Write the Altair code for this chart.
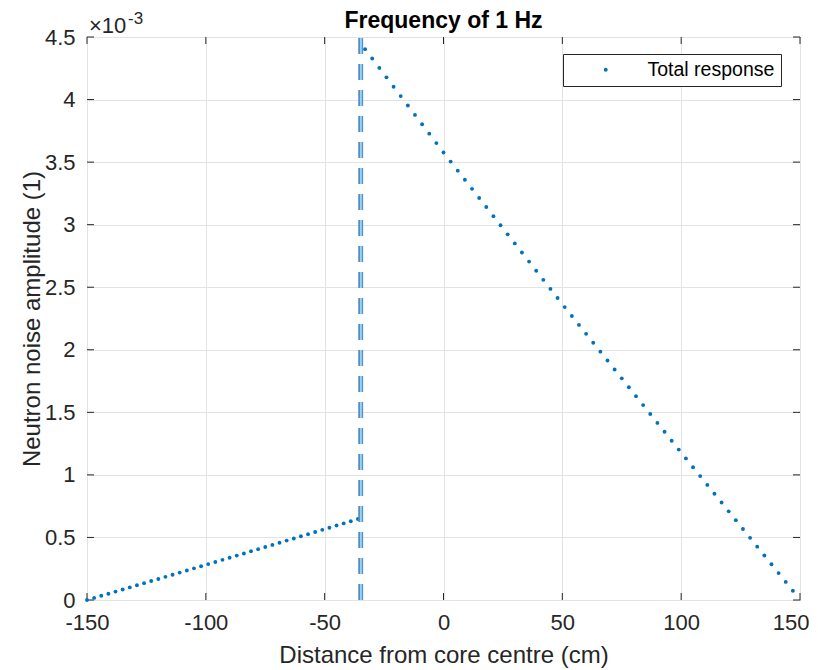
import altair as alt
import pandas as pd

# ---- data ----
x_left = [-150, -147, -144, -141, -138, -135, -132, -129, -126, -123, -120, -117, -114,
          -111, -108, -105, -102, -99, -96, -93, -90, -87, -84, -81, -78, -75, -72, -69,
          -66, -63, -60, -57, -54, -51, -48, -45, -42, -39, -36]
y_left = [0, 0.0168, 0.0336, 0.0503, 0.0672, 0.084, 0.1008, 0.1177, 0.1345, 0.1514,
          0.1683, 0.1852, 0.2021, 0.2191, 0.236, 0.253, 0.27, 0.2869, 0.304, 0.321,
          0.338, 0.3551, 0.3721, 0.3892, 0.4063, 0.4234, 0.4405, 0.4576, 0.4748, 0.4919,
          0.5091, 0.5263, 0.5435, 0.5607, 0.5779, 0.5952, 0.6124, 0.6297, 0.647]
x_right = [-33, -30, -27, -24, -21, -18, -15, -12, -9, -6, -3, 0, 3, 6, 9, 12, 15, 18, 21,
           24, 27, 30, 33, 36, 39, 42, 45, 48, 51, 54, 57, 60, 63, 66, 69, 72, 75, 78, 81,
           84, 87, 90, 93, 96, 99, 102, 105, 108, 111, 114, 117, 120, 123, 126, 129, 132,
           135, 138, 141, 144, 147]
y_right = [4.403, 4.3279, 4.2528, 4.1777, 4.1026, 4.0275, 3.9525, 3.8774, 3.8023, 3.7272,
           3.6521, 3.577,
           3.5043, 3.4316, 3.3589, 3.2862, 3.2135, 3.1408, 3.0681, 2.9954, 2.9227, 2.85,
           2.7773, 2.7046, 2.6319, 2.5592, 2.4865, 2.4138, 2.341,
           2.2698, 2.1986, 2.1274, 2.0562, 1.9851, 1.9139, 1.8427, 1.7715, 1.7003, 1.6291,
           1.558, 1.4868, 1.4156, 1.3444, 1.2732, 1.202,
           1.1315, 1.061, 0.9905, 0.92, 0.8495, 0.779, 0.7085, 0.638, 0.5675, 0.497,
           0.4265, 0.356, 0.2855, 0.215, 0.1445, 0.074]
boundary_x = [-34.8]
x_ticks = [-150, -100, -50, 0, 50, 100, 150]
y_ticks = [0, 0.5, 1, 1.5, 2, 2.5, 3, 3.5, 4, 4.5]
series_name = "Total response"
title_text = "Frequency of 1 Hz"
x_title = "Distance from core centre (cm)"
y_title = "Neutron noise amplitude (1)"
exp_base = "×10"
exp_power = "-3"

W, H = 713, 563
FONT = "Liberation Sans"
BLUE = "#0072BD"
AX = "#262626"

pts = pd.DataFrame({"x": x_left + x_right, "y": y_left + y_right,
                    "series": [series_name] * (len(x_left) + len(x_right))})
bnd = pd.DataFrame({"x": boundary_x})
xt = pd.DataFrame({"x": x_ticks})
yt = pd.DataFrame({"y": y_ticks})

xscale = alt.Scale(domain=[-150, 150], nice=False, zero=False)
yscale = alt.Scale(domain=[0, 4.5], nice=False, zero=False)

last_x = "datum.value == 150"
xaxis = alt.Axis(values=x_ticks, labelExpr="datum.value + ''", ticks=False, domain=False,
                 grid=True, gridColor="#e3e3e3", labelFont=FONT, labelFontSize=22,
                 labelColor=AX, labelPadding=12, labelFlush=False, labelOverlap=False,
                 labelAlign={"condition": {"test": last_x, "value": "right"},
                             "value": "center"},
                 labelOffset={"condition": {"test": last_x, "value": 9}, "value": 0},
                 title=x_title, titleFont=FONT,
                 titleFontSize=24, titleFontWeight="normal", titleColor=AX,
                 titleX=W / 2, titleY=55, titleBaseline="middle", titleAnchor="middle")
yaxis = alt.Axis(values=y_ticks, labelExpr="datum.value + ''", ticks=False, domain=False,
                 grid=True, gridColor="#e3e3e3", labelFont=FONT, labelFontSize=22,
                 labelColor=AX, labelPadding=12, labelFlush=False, labelOverlap=False,
                 title=y_title, titleFont=FONT,
                 titleFontSize=24, titleFontWeight="normal", titleColor=AX,
                 titleX=-55, titleY=H / 2, titleAngle=-90, titleBaseline="middle",
                 titleAlign="center")

points = alt.Chart(pts).mark_circle(size=15, opacity=1).encode(
    x=alt.X("x:Q", scale=xscale, axis=xaxis),
    y=alt.Y("y:Q", scale=yscale, axis=yaxis),
    color=alt.Color("series:N", scale=alt.Scale(range=[BLUE]),
                    legend=alt.Legend(orient="none", legendX=476, legendY=17, title=None,
                                      padding=6, strokeColor=AX, fillColor="white",
                                      symbolType="circle", symbolSize=15,
                                      symbolOffset=27, labelOffset=32,
                                      labelFontSize=19.5, labelFont=FONT,
                                      labelColor="#000", cornerRadius=0)),
)

dash = [16, 10]
band = alt.Chart(bnd).mark_rule(strokeWidth=4.4, color="#a3cdee", strokeDash=dash).encode(
    x=alt.X("x:Q", scale=xscale), y=alt.value(H), y2=alt.value(0))
edge_l = alt.Chart(bnd).mark_rule(strokeWidth=1.3, color="#2d7bbb", strokeDash=dash,
                                  xOffset=-1.7).encode(
    x=alt.X("x:Q", scale=xscale), y=alt.value(H), y2=alt.value(0))
edge_r = alt.Chart(bnd).mark_rule(strokeWidth=1.3, color="#4a95cf", strokeDash=dash,
                                  xOffset=1.7).encode(
    x=alt.X("x:Q", scale=xscale), y=alt.value(H), y2=alt.value(0))

tk = dict(color=AX, strokeWidth=1)
tick_b = alt.Chart(xt).mark_rule(**tk).encode(x=alt.X("x:Q", scale=xscale),
                                              y=alt.value(H), y2=alt.value(H - 7))
tick_t = alt.Chart(xt).mark_rule(**tk).encode(x=alt.X("x:Q", scale=xscale),
                                              y=alt.value(0), y2=alt.value(7))
tick_l = alt.Chart(yt).mark_rule(**tk).encode(y=alt.Y("y:Q", scale=yscale),
                                              x=alt.value(0), x2=alt.value(7))
tick_r = alt.Chart(yt).mark_rule(**tk).encode(y=alt.Y("y:Q", scale=yscale),
                                              x=alt.value(W), x2=alt.value(W - 7))

expo1 = alt.Chart(pd.DataFrame({"t": [exp_base]})).mark_text(
    font=FONT, fontSize=22, align="left", baseline="alphabetic", color=AX).encode(
    text="t:N", x=alt.value(2.0), y=alt.value(-4))
expo2 = alt.Chart(pd.DataFrame({"t": [exp_power]})).mark_text(
    font=FONT, fontSize=17, align="left", baseline="alphabetic", color=AX).encode(
    text="t:N", x=alt.value(41.0), y=alt.value(-13))
ttl = alt.Chart(pd.DataFrame({"t": [title_text]})).mark_text(
    font=FONT, fontSize=23, fontWeight="bold", align="center", baseline="alphabetic",
    color="#000").encode(text="t:N", x=alt.value(W / 2), y=alt.value(-9))

chart = alt.layer(tick_b, tick_t, tick_l, tick_r, points, band, edge_l, edge_r,
                  expo1, expo2, ttl).properties(
    width=W, height=H,
    padding={"left": 79, "top": 29, "right": 10, "bottom": 70},
    autosize=alt.AutoSizeParams(type="none"),
).configure_view(stroke=AX, strokeWidth=1)

chart.save("out.html", embed_options={"renderer": "svg", "actions": False})
